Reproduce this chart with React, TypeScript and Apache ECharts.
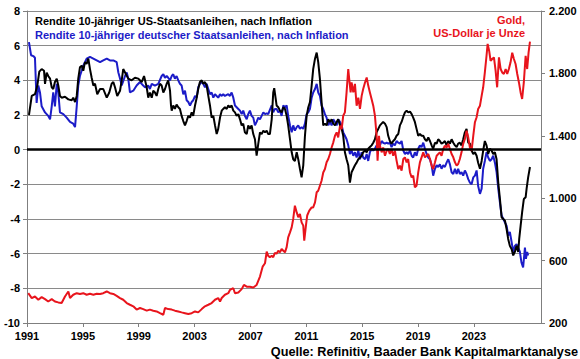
import React, { useEffect, useRef } from "react";
import * as echarts from "echarts";

const FONT = 'Arial, "Liberation Sans", Helvetica, sans-serif';

// x positions are in years on the chart's time axis
const xTickYears = [1991, 1995, 1999, 2003, 2007, 2011, 2015, 2019, 2023];
const rightTicks = [200, 600, 1000, 1400, 1800, 2200];

const titleUS = "Rendite 10-jähriger US-Staatsanleihen, nach Inflation";
const titleDE = "Rendite 10-jähriger deutscher Staatsanleihen, nach Inflation";
const titleGold1 = "Gold,";
const titleGold2 = "US-Dollar je Unze";
const sourceText = "Quelle: Refinitiv, Baader Bank Kapitalmarktanalyse";

const usReal: [number, number][] = [
  [1991.14, 2.0], [1991.34, 3.1], [1991.57, 3.2], [1991.74, 3.7], [1991.88, 4.5], [1992.05, 4.65], [1992.22, 4.55], [1992.29, 3.8], [1992.41, 4.45], [1992.52, 4.25], [1992.65, 4.1], [1992.77, 3.6], [1992.88, 3.5], [1993.0, 3.9], [1993.13, 4.1], [1993.24, 3.7], [1993.36, 3.1], [1993.48, 3.0], [1993.72, 3.05], [1993.96, 2.9], [1994.2, 2.85], [1994.31, 3.0], [1994.44, 2.75], [1994.56, 3.1], [1994.67, 4.1], [1994.79, 4.75], [1994.92, 4.85], [1995.03, 4.55], [1995.15, 5.05], [1995.27, 4.95], [1995.39, 5.25], [1995.51, 4.65], [1995.63, 4.15], [1995.75, 3.7], [1995.87, 3.8], [1996.03, 3.2], [1996.23, 3.5], [1996.46, 3.5], [1996.71, 3.0], [1996.89, 3.3], [1997.06, 3.8], [1997.18, 3.9], [1997.3, 3.6], [1997.46, 3.1], [1997.66, 3.4], [1997.78, 4.0], [1997.89, 4.65], [1998.02, 4.45], [1998.25, 4.1], [1998.49, 4.0], [1998.73, 4.15], [1998.97, 4.1], [1999.21, 3.9], [1999.38, 4.25], [1999.57, 3.6], [1999.68, 3.0], [1999.8, 3.3], [1999.93, 3.0], [2000.04, 3.4], [2000.16, 3.3], [2000.28, 3.1], [2000.4, 3.5], [2000.52, 3.8], [2000.64, 3.7], [2000.76, 3.3], [2000.88, 3.5], [2001.0, 3.8], [2001.11, 4.0], [2001.24, 3.4], [2001.31, 2.55], [2001.36, 2.25], [2001.47, 2.55], [2001.59, 2.35], [2001.71, 2.6], [2001.83, 2.45], [2001.95, 2.35], [2002.07, 1.95], [2002.19, 1.65], [2002.31, 1.4], [2002.43, 1.65], [2002.55, 1.95], [2002.67, 1.85], [2002.79, 2.15], [2002.9, 1.95], [2003.03, 2.55], [2003.15, 3.0], [2003.26, 3.5], [2003.38, 3.9], [2003.51, 4.0], [2003.62, 3.8], [2003.74, 3.9], [2003.86, 3.7], [2003.98, 3.1], [2004.1, 2.55], [2004.22, 1.85], [2004.34, 1.95], [2004.46, 1.4], [2004.58, 0.9], [2004.69, 1.2], [2004.82, 1.85], [2004.94, 2.25], [2005.05, 2.35], [2005.17, 2.45], [2005.3, 2.35], [2005.41, 2.55], [2005.53, 2.45], [2005.65, 2.55], [2005.77, 2.25], [2005.89, 2.15], [2006.01, 1.95], [2006.13, 2.05], [2006.25, 1.75], [2006.37, 1.4], [2006.48, 1.5], [2006.6, 1.0], [2006.73, 0.9], [2006.84, 1.4], [2006.96, 1.2], [2007.08, 1.4], [2007.2, 0.9], [2007.32, 0.6], [2007.44, -0.35], [2007.56, 0.35], [2007.68, 1.0], [2007.8, 0.9], [2007.92, 1.1], [2008.04, 1.0], [2008.16, 1.1], [2008.27, 0.9], [2008.39, 0.9], [2008.52, 1.75], [2008.63, 3.3], [2008.7, 3.55], [2008.87, 2.55], [2008.99, 2.45], [2009.11, 2.25], [2009.23, 2.15], [2009.35, 2.45], [2009.47, 2.35], [2009.59, 1.95], [2009.7, 1.4], [2009.83, 0.6], [2009.95, -0.15], [2010.06, -0.55], [2010.18, -0.65], [2010.31, -0.15], [2010.42, -0.55], [2010.54, -1.1], [2010.66, -1.6], [2010.78, -0.9], [2010.9, 0.8], [2011.02, 1.95], [2011.14, 2.45], [2011.26, 2.75], [2011.38, 3.7], [2011.49, 4.65], [2011.62, 5.25], [2011.74, 5.6], [2011.85, 5.05], [2011.97, 4.1], [2012.09, 2.75], [2012.21, 1.4], [2012.33, 1.5], [2012.45, 1.4], [2012.57, 1.75], [2012.69, 1.6], [2012.81, 1.75], [2012.93, 1.5], [2013.05, 1.4], [2013.17, 1.6], [2013.28, 1.75], [2013.41, 1.4], [2013.53, 1.2], [2013.64, 0.8], [2013.76, -0.15], [2013.88, -0.55], [2014.0, -0.9], [2014.12, -1.9], [2014.24, -1.3], [2014.36, -1.1], [2014.48, -0.9], [2014.6, -0.75], [2014.72, -0.55], [2014.84, -0.45], [2014.96, -0.35], [2015.07, -0.15], [2015.2, -0.05], [2015.32, -0.15], [2015.43, 0.05], [2015.55, 0.15], [2015.67, 0.25], [2015.79, 0.4], [2015.91, 0.6], [2016.03, 1.0], [2016.15, 1.2], [2016.27, 1.4], [2016.5, 1.6], [2016.63, 1.5], [2016.75, 1.3], [2016.86, 0.8], [2016.98, 0.5], [2017.1, 0.35], [2017.22, 0.5], [2017.34, 0.6], [2017.46, 0.8], [2017.58, 0.9], [2017.7, 1.4], [2017.82, 1.6], [2017.94, 1.9], [2018.06, 2.15], [2018.18, 2.25], [2018.29, 2.15], [2018.42, 2.2], [2018.54, 2.05], [2018.65, 1.85], [2018.77, 1.6], [2018.89, 1.2], [2019.01, 0.8], [2019.13, 0.9], [2019.25, 0.8], [2019.37, 0.8], [2019.49, 0.6], [2019.61, 0.5], [2019.73, 0.7], [2019.85, 0.5], [2019.97, 0.25], [2020.08, 0.05], [2020.21, 0.4], [2020.33, 0.35], [2020.44, 0.6], [2020.56, 0.5], [2020.68, 0.35], [2020.8, 0.4], [2020.92, 0.5], [2021.04, 0.25], [2021.16, 0.5], [2021.28, 0.35], [2021.4, 0.6], [2021.52, 0.4], [2021.64, 0.25], [2021.76, 0.15], [2021.87, 0.35], [2021.99, 0.4], [2022.11, 0.25], [2022.23, 0.6], [2022.35, 1.0], [2022.47, 1.2], [2022.59, 0.4], [2022.71, 0.35], [2022.83, -0.05], [2022.95, -0.25], [2023.07, -0.15], [2023.19, -0.35], [2023.3, -0.75], [2023.43, -1.1], [2023.55, -0.65], [2023.66, -0.05], [2023.78, 0.5], [2023.9, 0.25], [2024.02, -0.25], [2024.14, 0.05], [2024.26, -0.05], [2024.38, -0.25], [2024.5, -0.15], [2024.62, -0.55], [2024.74, -1.9], [2024.86, -2.85], [2024.98, -3.9], [2025.1, -4.0], [2025.22, -4.1], [2025.34, -4.6], [2025.45, -5.15], [2025.57, -5.55], [2025.7, -5.75], [2025.81, -6.1], [2025.93, -5.9], [2026.05, -5.55], [2026.17, -5.9], [2026.24, -5.15], [2026.34, -4.4], [2026.45, -3.6], [2026.57, -2.85], [2026.7, -2.75], [2026.77, -2.25], [2026.88, -1.6], [2027.01, -1.0],
];

const deReal: [number, number][] = [
  [1991.14, 6.2], [1991.29, 5.45], [1991.45, 5.4], [1991.57, 5.3], [1991.69, 2.7], [1991.81, 3.7], [1991.93, 3.3], [1992.05, 2.5], [1992.29, 2.15], [1992.52, 1.95], [1992.65, 1.75], [1992.77, 2.5], [1992.88, 3.3], [1993.0, 2.5], [1993.13, 3.8], [1993.24, 3.3], [1993.36, 2.15], [1993.6, 2.05], [1993.84, 1.85], [1994.08, 1.6], [1994.31, 1.5], [1994.44, 1.3], [1994.56, 2.5], [1994.67, 3.7], [1994.79, 4.25], [1995.03, 4.85], [1995.27, 5.25], [1995.51, 5.35], [1995.75, 5.25], [1995.99, 5.15], [1996.23, 5.05], [1996.46, 5.15], [1996.71, 5.25], [1996.94, 5.15], [1997.18, 5.15], [1997.42, 5.05], [1997.54, 4.45], [1997.66, 4.1], [1997.78, 3.7], [1998.02, 4.25], [1998.14, 4.45], [1998.25, 4.1], [1998.37, 3.3], [1998.61, 3.4], [1998.85, 3.7], [1999.09, 3.9], [1999.32, 3.7], [1999.45, 3.6], [1999.68, 3.7], [1999.8, 3.5], [1999.93, 3.8], [2000.16, 3.7], [2000.4, 3.8], [2000.64, 4.25], [2000.76, 4.35], [2000.88, 4.15], [2001.0, 4.25], [2001.11, 4.15], [2001.24, 4.0], [2001.36, 4.25], [2001.47, 4.35], [2001.59, 4.1], [2001.71, 4.25], [2001.83, 4.0], [2001.95, 3.8], [2002.07, 3.7], [2002.19, 3.2], [2002.31, 3.4], [2002.43, 2.85], [2002.55, 2.75], [2002.67, 2.55], [2002.79, 2.75], [2002.9, 2.85], [2003.03, 3.1], [2003.15, 3.0], [2003.26, 3.6], [2003.38, 3.8], [2003.51, 3.9], [2003.62, 3.8], [2003.74, 3.6], [2003.86, 3.8], [2003.98, 3.5], [2004.1, 3.2], [2004.22, 3.3], [2004.34, 3.0], [2004.46, 3.2], [2004.69, 3.0], [2004.82, 3.2], [2004.94, 3.1], [2005.05, 3.2], [2005.17, 3.1], [2005.41, 3.2], [2005.53, 3.1], [2005.65, 3.3], [2005.77, 3.0], [2005.89, 2.55], [2006.01, 2.45], [2006.13, 2.35], [2006.25, 2.25], [2006.37, 2.05], [2006.48, 2.25], [2006.6, 1.95], [2006.73, 1.75], [2006.84, 2.05], [2006.96, 2.25], [2007.08, 1.95], [2007.2, 1.85], [2007.32, 1.4], [2007.44, 1.6], [2007.56, 1.85], [2007.68, 1.75], [2007.8, 1.95], [2007.92, 2.15], [2008.04, 2.05], [2008.16, 2.1], [2008.27, 2.05], [2008.39, 2.3], [2008.52, 2.55], [2008.63, 2.15], [2008.75, 2.35], [2008.87, 2.35], [2008.99, 2.15], [2009.11, 2.25], [2009.23, 1.95], [2009.35, 2.55], [2009.47, 2.45], [2009.59, 2.55], [2009.7, 1.95], [2009.83, 1.4], [2009.95, 1.0], [2010.06, 1.4], [2010.18, 1.1], [2010.31, 1.3], [2010.42, 1.4], [2010.54, 1.2], [2010.66, 1.3], [2010.78, 1.2], [2010.9, 1.5], [2011.02, 2.05], [2011.14, 2.15], [2011.26, 2.35], [2011.38, 3.0], [2011.49, 3.3], [2011.62, 3.5], [2011.74, 3.8], [2011.85, 3.3], [2011.97, 3.1], [2012.09, 2.55], [2012.21, 2.35], [2012.33, 2.05], [2012.45, 1.85], [2012.57, 1.4], [2012.69, 1.6], [2012.81, 1.4], [2012.93, 1.75], [2013.05, 1.6], [2013.17, 1.4], [2013.28, 1.75], [2013.41, 1.6], [2013.53, 1.4], [2013.64, 1.0], [2013.76, 0.8], [2013.88, 0.6], [2014.0, 0.25], [2014.12, -0.25], [2014.24, -0.05], [2014.36, -0.35], [2014.48, -0.15], [2014.6, -0.45], [2014.72, -0.05], [2014.84, -0.55], [2014.96, -0.15], [2015.07, -0.45], [2015.2, -0.55], [2015.32, -0.25], [2015.43, -0.65], [2015.55, -0.15], [2015.67, 0.05], [2015.79, -0.05], [2015.91, 0.05], [2016.03, 0.25], [2016.15, -0.05], [2016.27, 0.25], [2016.39, 0.5], [2016.5, 0.4], [2016.63, 0.35], [2016.75, 0.4], [2016.86, 0.35], [2016.98, 0.4], [2017.1, 0.15], [2017.22, 0.35], [2017.34, 0.25], [2017.46, 0.5], [2017.58, 0.4], [2017.7, 0.35], [2017.82, 0.5], [2017.94, -0.05], [2018.06, -0.25], [2018.18, -0.15], [2018.29, -0.25], [2018.42, -0.05], [2018.54, -0.35], [2018.65, -0.45], [2018.77, -0.15], [2018.89, -0.35], [2019.01, 0.05], [2019.13, 0.25], [2019.25, 0.15], [2019.37, 0.4], [2019.49, 0.05], [2019.61, -0.25], [2019.73, -0.45], [2019.85, -0.55], [2019.97, -0.9], [2020.08, -1.5], [2020.21, -1.1], [2020.33, -0.9], [2020.44, -1.0], [2020.56, -0.85], [2020.68, -1.1], [2020.8, -0.9], [2020.92, -1.0], [2021.04, -0.75], [2021.16, -0.55], [2021.28, -0.85], [2021.4, -1.3], [2021.52, -1.4], [2021.64, -1.1], [2021.76, -1.4], [2021.87, -1.1], [2021.99, -1.4], [2022.11, -1.3], [2022.23, -1.5], [2022.35, -1.2], [2022.47, -1.4], [2022.59, -1.7], [2022.71, -1.9], [2022.83, -2.0], [2022.95, -1.6], [2023.07, -1.5], [2023.19, -1.2], [2023.3, -2.1], [2023.43, -2.55], [2023.55, -2.25], [2023.66, -1.1], [2023.78, -0.65], [2023.9, -0.15], [2024.02, -0.45], [2024.14, -0.65], [2024.26, -0.55], [2024.38, -0.35], [2024.5, -0.75], [2024.62, -1.3], [2024.74, -2.25], [2024.86, -3.05], [2024.98, -3.8], [2025.1, -4.0], [2025.22, -4.2], [2025.34, -4.4], [2025.45, -4.95], [2025.57, -4.75], [2025.7, -5.35], [2025.81, -5.9], [2025.93, -5.55], [2026.05, -5.45], [2026.17, -5.65], [2026.29, -5.9], [2026.4, -6.5], [2026.52, -6.8], [2026.65, -5.65], [2026.72, -6.3], [2026.81, -5.9], [2026.88, -6.1],
];

const goldUsd: [number, number][] = [
  [1991.09, 391], [1991.34, 360], [1991.57, 370], [1991.81, 349], [1992.05, 366], [1992.29, 353], [1992.52, 338], [1992.77, 353], [1993.0, 338], [1993.24, 332], [1993.48, 328], [1993.72, 370], [1993.96, 402], [1994.08, 360], [1994.31, 381], [1994.56, 391], [1994.79, 386], [1995.03, 391], [1995.27, 381], [1995.51, 387], [1995.75, 381], [1995.99, 387], [1996.23, 386], [1996.46, 391], [1996.71, 402], [1996.94, 391], [1997.18, 386], [1997.42, 374], [1997.66, 360], [1997.89, 349], [1998.14, 328], [1998.37, 317], [1998.61, 307], [1998.85, 286], [1999.09, 296], [1999.32, 289], [1999.57, 279], [1999.8, 286], [2000.04, 279], [2000.28, 274], [2000.52, 263], [2000.76, 253], [2000.88, 296], [2001.11, 289], [2001.36, 286], [2001.59, 279], [2001.83, 274], [2002.07, 268], [2002.31, 263], [2002.55, 258], [2002.79, 263], [2003.03, 274], [2003.26, 268], [2003.51, 289], [2003.74, 307], [2003.98, 317], [2004.22, 328], [2004.46, 349], [2004.69, 360], [2004.82, 338], [2004.94, 360], [2005.17, 381], [2005.41, 391], [2005.53, 412], [2005.77, 423], [2005.89, 391], [2006.13, 396], [2006.37, 417], [2006.53, 444], [2006.73, 433], [2006.96, 433], [2007.2, 428], [2007.44, 444], [2007.68, 498], [2007.87, 561], [2008.04, 583], [2008.16, 658], [2008.27, 630], [2008.39, 622], [2008.52, 631], [2008.63, 622], [2008.75, 650], [2008.87, 644], [2008.99, 663], [2009.11, 653], [2009.23, 674], [2009.35, 663], [2009.47, 653], [2009.59, 686], [2009.7, 749], [2009.83, 781], [2009.95, 813], [2010.06, 867], [2010.18, 952], [2010.31, 909], [2010.42, 878], [2010.54, 899], [2010.66, 845], [2010.78, 824], [2010.85, 728], [2010.97, 824], [2011.06, 889], [2011.21, 920], [2011.38, 941], [2011.49, 941], [2011.62, 973], [2011.74, 1038], [2011.85, 1048], [2011.97, 1080], [2012.09, 1112], [2012.21, 1165], [2012.33, 1187], [2012.45, 1230], [2012.57, 1251], [2012.69, 1283], [2012.81, 1325], [2012.93, 1358], [2013.05, 1400], [2013.17, 1422], [2013.28, 1390], [2013.41, 1464], [2013.53, 1443], [2013.64, 1529], [2013.76, 1550], [2013.88, 1678], [2014.0, 1828], [2014.07, 1764], [2014.17, 1678], [2014.24, 1742], [2014.36, 1678], [2014.48, 1733], [2014.6, 1593], [2014.72, 1644], [2014.84, 1572], [2014.96, 1656], [2015.07, 1700], [2015.2, 1742], [2015.32, 1774], [2015.43, 1722], [2015.55, 1678], [2015.67, 1636], [2015.79, 1593], [2015.91, 1529], [2016.03, 1400], [2016.1, 1241], [2016.2, 1400], [2016.27, 1337], [2016.39, 1294], [2016.5, 1325], [2016.63, 1272], [2016.75, 1304], [2016.86, 1315], [2016.98, 1283], [2017.1, 1315], [2017.22, 1272], [2017.34, 1304], [2017.46, 1241], [2017.58, 1187], [2017.7, 1209], [2017.82, 1177], [2017.94, 1251], [2018.06, 1262], [2018.18, 1230], [2018.29, 1251], [2018.42, 1165], [2018.54, 1133], [2018.65, 1144], [2018.77, 1070], [2018.89, 1080], [2019.01, 1165], [2019.13, 1230], [2019.25, 1262], [2019.37, 1294], [2019.49, 1262], [2019.61, 1272], [2019.73, 1283], [2019.85, 1251], [2019.97, 1209], [2020.08, 1187], [2020.21, 1230], [2020.33, 1272], [2020.44, 1283], [2020.56, 1294], [2020.68, 1272], [2020.8, 1315], [2020.92, 1337], [2021.04, 1325], [2021.16, 1348], [2021.28, 1315], [2021.4, 1283], [2021.52, 1262], [2021.64, 1230], [2021.76, 1209], [2021.87, 1219], [2021.99, 1251], [2022.11, 1294], [2022.23, 1348], [2022.35, 1380], [2022.47, 1433], [2022.59, 1390], [2022.71, 1325], [2022.83, 1304], [2022.95, 1400], [2023.07, 1487], [2023.19, 1519], [2023.3, 1572], [2023.43, 1593], [2023.55, 1656], [2023.66, 1711], [2023.78, 1806], [2023.9, 1913], [2023.98, 1989], [2024.09, 1944], [2024.19, 1881], [2024.31, 1892], [2024.43, 1903], [2024.55, 1818], [2024.66, 1711], [2024.79, 1903], [2024.91, 1828], [2025.02, 1806], [2025.14, 1796], [2025.27, 1828], [2025.38, 1796], [2025.5, 1828], [2025.62, 1871], [2025.74, 1933], [2025.86, 1892], [2025.98, 1860], [2026.1, 1796], [2026.22, 1742], [2026.34, 1678], [2026.45, 1636], [2026.57, 1742], [2026.7, 1913], [2026.81, 1828], [2026.91, 1933], [2027.01, 2003],
];

const GRAY = "#7f7f7f";
const BLUE = "#1c1cc8";
const RED = "#e8141c";

function fmtThousands(v: number): string {
  const n = Math.round(v);
  if (n >= 1000) return `${Math.floor(n / 1000)}.${String(n % 1000).padStart(3, "0")}`;
  return String(n);
}

export default function App() {
  const ref = useRef<HTMLDivElement>(null);

  useEffect(() => {
    if (!ref.current) return;
    const chart = echarts.init(ref.current, null, { renderer: "svg" });
    const labelStyle = { color: "#000", fontWeight: "bold" as const, fontSize: 11, fontFamily: FONT };
    chart.setOption({
      animation: false,
      backgroundColor: "#ffffff",
      grid: { left: 27, right: 39, top: 11, bottom: 36, containLabel: false },
      xAxis: {
        type: "value",
        min: 1991,
        max: 2027.8,
        axisLine: { show: true, onZero: false, lineStyle: { color: GRAY, width: 1 } },
        axisTick: { show: true, length: 4, lineStyle: { color: GRAY }, customValues: xTickYears },
        axisLabel: { ...labelStyle, margin: 7, customValues: xTickYears, formatter: (v: number) => String(Math.round(v)) },
        splitLine: { show: false },
      },
      yAxis: [
        {
          type: "value",
          min: -10,
          max: 8,
          interval: 2,
          axisLine: { show: true, onZero: false, lineStyle: { color: GRAY, width: 1 } },
          axisTick: { show: true, length: 4, lineStyle: { color: GRAY } },
          axisLabel: { ...labelStyle, margin: 7 },
          splitLine: { show: true, lineStyle: { color: "#8a8a8a", width: 1 } },
        },
        {
          type: "value",
          min: 200,
          max: 2200,
          position: "right",
          axisLine: { show: true, onZero: false, lineStyle: { color: GRAY, width: 1 } },
          axisTick: { show: true, length: 4, lineStyle: { color: GRAY }, customValues: rightTicks },
          axisLabel: { ...labelStyle, margin: 8, customValues: rightTicks, formatter: (v: number) => fmtThousands(v) },
          splitLine: { show: false },
        },
      ],
      graphic: [
        { type: "text", x: 35, y: 21, style: { text: titleUS, fill: "#000", font: `bold 11px ${FONT}`, textVerticalAlign: "middle" } },
        { type: "text", x: 35, y: 35, style: { text: titleDE, fill: BLUE, font: `bold 11px ${FONT}`, textVerticalAlign: "middle" } },
        { type: "text", x: 525, y: 20, style: { text: titleGold1, fill: RED, font: `bold 11px ${FONT}`, textAlign: "right", textVerticalAlign: "middle" } },
        { type: "text", x: 525, y: 33, style: { text: titleGold2, fill: RED, font: `bold 11px ${FONT}`, textAlign: "right", textVerticalAlign: "middle" } },
        { type: "text", x: 578, y: 352, style: { text: sourceText, fill: "#000", font: `bold 12.7px ${FONT}`, textAlign: "right", textVerticalAlign: "middle" } },
      ],
      series: [
        {
          name: "DE",
          type: "line",
          data: deReal,
          showSymbol: false,
          symbol: "none",
          lineStyle: { color: BLUE, width: 2 },
          markLine: {
            silent: true,
            symbol: ["none", "none"],
            label: { show: false },
            lineStyle: { color: "#000", width: 2.5, type: "solid" },
            data: [{ yAxis: 0 }],
          },
        },
        {
          name: "US",
          type: "line",
          data: usReal,
          showSymbol: false,
          symbol: "none",
          lineStyle: { color: "#000", width: 2 },
        },
        {
          name: "Gold",
          type: "line",
          yAxisIndex: 1,
          data: goldUsd,
          showSymbol: false,
          symbol: "none",
          lineStyle: { color: RED, width: 2 },
        },
      ],
    });
    return () => chart.dispose();
  }, []);

  return <div ref={ref} style={{ position: "fixed", left: 0, top: 0, width: 580, height: 359 }} />;
}
